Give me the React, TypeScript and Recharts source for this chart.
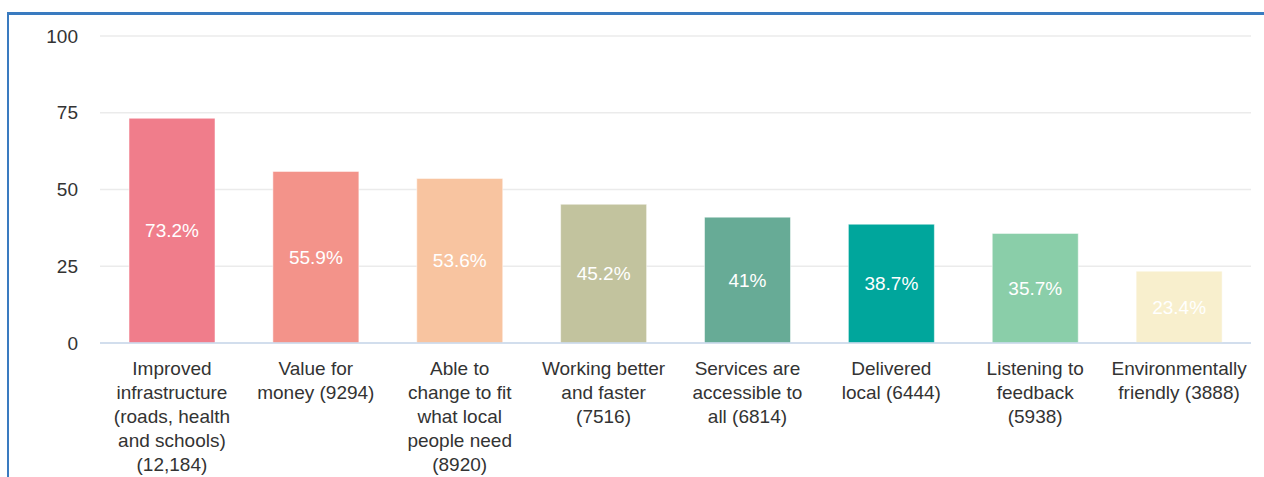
import { BarChart, Bar, XAxis, YAxis, CartesianGrid, Cell, LabelList } from 'recharts'

/* ── data ── */

const categories = [
  'Improved\ninfrastructure\n(roads, health\nand schools)\n(12,184)',
  'Value for\nmoney (9294)',
  'Able to\nchange to fit\nwhat local\npeople need\n(8920)',
  'Working better\nand faster\n(7516)',
  'Services are\naccessible to\nall (6814)',
  'Delivered\nlocal (6444)',
  'Listening to\nfeedback\n(5938)',
  'Environmentally\nfriendly (3888)',
]
const percents = [73.2, 55.9, 53.6, 45.2, 41, 38.7, 35.7, 23.4]
const barColors = ['#F07D8B', '#F3938A', '#F8C4A0', '#C2C39E', '#67AB96', '#00A69C', '#8ACEA9', '#F8EFCD']
const yTicks = [0, 25, 50, 75, 100]

const FONT = '"Liberation Sans", Arial, sans-serif'

const data = categories.map((name, i) => ({ name, pct: percents[i] }))

/* ── multi-line category tick ── */

function CategoryTick({ x, y, payload }: any) {
  const lines = String(payload.value).split('\n')
  return (
    <text x={x} y={y + 25} textAnchor="middle" fill="#333" fontSize={19} fontFamily={FONT}>
      {lines.map((ln, i) => (
        <tspan key={i} x={x} dy={i === 0 ? '0.355em' : 24}>{ln}</tspan>
      ))}
    </text>
  )
}

export default function App() {
  return (
    <div style={{ position: 'relative', width: 1264, height: 477, overflow: 'hidden' }}>
      <style>{'html,body{margin:0;padding:0;overflow:hidden}'}</style>
      <div
        style={{
          position: 'absolute', left: 7, top: 12, width: 1257, height: 465,
          boxSizing: 'border-box', borderTop: '3px solid #3A7BC0', borderLeft: '2px solid #3A7BC0',
        }}
      />
      <div style={{ position: 'absolute', left: 8, top: 8 }}>
        <BarChart width={1248} height={469} data={data} margin={{ top: 28, right: 5, bottom: 0, left: 0 }}>
          <CartesianGrid vertical={false} stroke="#EBEBEB" strokeWidth={1.5} />
          <XAxis
            dataKey="name"
            interval={0}
            height={134}
            tickSize={0}
            tickMargin={0}
            tick={<CategoryTick />}
            axisLine={{ stroke: '#C8D8EC', strokeWidth: 1.5 }}
            tickLine={false}
          />
          <YAxis
            domain={[0, 100]}
            ticks={yTicks}
            width={92}
            tickSize={0}
            tickMargin={22}
            axisLine={false}
            tickLine={false}
            tick={{ fill: '#333', fontSize: 19, fontFamily: FONT }}
          />
          <Bar dataKey="pct" barSize={86} isAnimationActive={false} stroke="#ffffff" strokeOpacity={0.5}>
            {data.map((d, i) => (
              <Cell key={i} fill={barColors[i]} />
            ))}
            <LabelList
              dataKey="pct"
              position="center"
              formatter={(v: any) => v + '%'}
              fill="#ffffff"
              fontSize={19}
              fontFamily={FONT}
            />
          </Bar>
        </BarChart>
      </div>
    </div>
  )
}
